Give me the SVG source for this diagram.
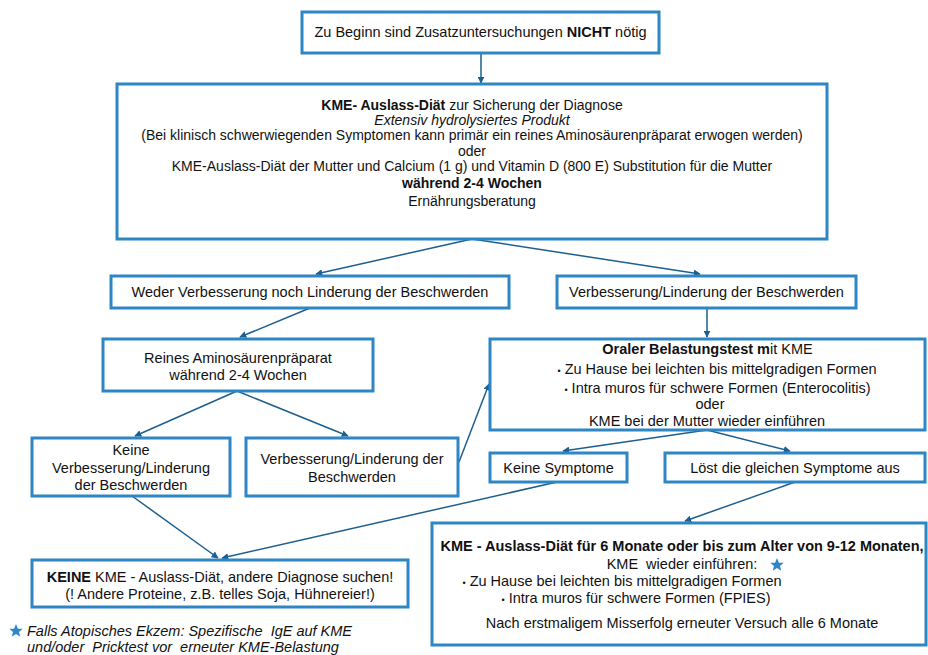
<svg xmlns="http://www.w3.org/2000/svg" width="928" height="655" viewBox="0 0 928 655">
<defs>
<marker id="ah" viewBox="0 0 10 10" refX="9" refY="5" markerWidth="7" markerHeight="7" markerUnits="userSpaceOnUse" orient="auto">
<path d="M0,0 L10,5 L0,10 z" fill="#1d5f8f"/>
</marker>
</defs>
<style>
.box{fill:#fff;stroke:#2f86c4;stroke-width:3}
.t{font-family:"Liberation Sans",Arial,sans-serif;font-size:14.5px;fill:#111;text-anchor:middle;white-space:pre}
.s{font-size:14px}
.b{font-weight:bold}
.i{font-style:italic}
.d{font-size:9px}
.c{fill:none;stroke:#1d5f8f;stroke-width:1.5;marker-end:url(#ah)}
.star{fill:#2f86c4}
</style>
<rect width="928" height="655" fill="#fff"/>

<g id="connectors">
<line class="c" x1="481" y1="53" x2="481" y2="83"/>
<line class="c" x1="472" y1="239" x2="316" y2="274"/>
<line class="c" x1="472" y1="239" x2="700" y2="274"/>
<line class="c" x1="310" y1="308" x2="240" y2="337"/>
<line class="c" x1="707" y1="308" x2="707" y2="337"/>
<line class="c" x1="237" y1="391" x2="135" y2="436"/>
<line class="c" x1="237" y1="391" x2="348" y2="436"/>
<line class="c" x1="459" y1="462" x2="489" y2="384"/>
<line class="c" x1="707" y1="430" x2="563" y2="451"/>
<line class="c" x1="707" y1="430" x2="790" y2="451"/>
<line class="c" x1="795" y1="482" x2="685" y2="521"/>
<line class="c" x1="132" y1="496" x2="218" y2="558"/>
<line class="c" x1="557" y1="482" x2="222" y2="558"/>
</g>

<g id="n1">
<rect class="box" x="302" y="12" width="357" height="41"/>
<text class="t" x="480.5" y="37">Zu Beginn sind Zusatzuntersuchungen <tspan class="b">NICHT</tspan> nötig</text>
</g>

<g id="n2">
<rect class="box" x="117" y="84" width="710" height="155"/>
<text class="t s" x="472" y="110"><tspan class="b">KME- Auslass-Diät</tspan> zur Sicherung der Diagnose</text>
<text class="t s i" x="472" y="125">Extensiv hydrolysiertes Produkt</text>
<text class="t s" x="472" y="140">(Bei klinisch schwerwiegenden Symptomen kann primär ein reines Aminosäurenpräparat erwogen werden)</text>
<text class="t s" x="472" y="156">oder</text>
<text class="t s" x="472" y="171">KME-Auslass-Diät der Mutter und Calcium (1 g) und Vitamin D (800 E) Substitution für die Mutter</text>
<text class="t s b" x="472" y="188">während 2-4 Wochen</text>
<text class="t s" x="472" y="206">Ernährungsberatung</text>
</g>

<g id="n3">
<rect class="box" x="111" y="276" width="398" height="32"/>
<text class="t" x="310" y="297">Weder Verbesserung noch Linderung der Beschwerden</text>
</g>

<g id="n4">
<rect class="box" x="557" y="276" width="299" height="32"/>
<text class="t" x="706.5" y="297">Verbesserung/Linderung der Beschwerden</text>
</g>

<g id="n5">
<rect class="box" x="103" y="339" width="270" height="52"/>
<text class="t" x="238" y="363">Reines Aminosäurenpräparat</text>
<text class="t" x="238" y="380">während 2-4 Wochen</text>
</g>

<g id="n6">
<rect class="box" x="490" y="339" width="435" height="91"/>
<text class="t" x="707.5" y="354"><tspan class="b">Oraler Belastungstest m</tspan>it KME</text>
<text class="t" x="717" y="374"><tspan class="d">•</tspan> Zu Hause bei leichten bis mittelgradigen Formen</text>
<text class="t" x="717.5" y="393"><tspan class="d">•</tspan> Intra muros für schwere Formen (Enterocolitis)</text>
<text class="t" x="710" y="409">oder</text>
<text class="t" x="707" y="426">KME bei der Mutter wieder einführen</text>
</g>

<g id="n7">
<rect class="box" x="32" y="438" width="198" height="58"/>
<text class="t" x="131" y="455">Keine</text>
<text class="t" x="131" y="473">Verbesserung/Linderung</text>
<text class="t" x="131" y="490">der Beschwerden</text>
</g>

<g id="n8">
<rect class="box" x="246" y="438" width="212" height="58"/>
<text class="t" x="352" y="464">Verbesserung/Linderung der</text>
<text class="t" x="352" y="482">Beschwerden</text>
</g>

<g id="n9">
<rect class="box" x="490" y="453" width="137" height="29"/>
<text class="t" x="558.5" y="473">Keine Symptome</text>
</g>

<g id="n10">
<rect class="box" x="665" y="453" width="260" height="29"/>
<text class="t" x="795" y="473">Löst die gleichen Symptome aus</text>
</g>

<g id="n11">
<rect class="box" x="32" y="560" width="376" height="47"/>
<text class="t" x="220" y="582"><tspan class="b">KEINE</tspan> KME - Auslass-Diät, andere Diagnose suchen!</text>
<text class="t" x="220" y="599">(! Andere Proteine, z.B. telles Soja, Hühnereier!)</text>
</g>

<g id="n12">
<rect class="box" x="432" y="523" width="494" height="122"/>
<text class="t b" x="682" y="551">KME - Auslass-Diät für 6 Monate oder bis zum Alter von 9-12 Monaten,</text>
<text class="t" x="682" y="569">KME  wieder einführen:</text>
<path class="star" transform="translate(777,565)" d="M0,-7 L1.9,-2.3 L6.7,-2.2 L3,0.9 L4.2,5.7 L0,3 L-4.2,5.7 L-3,0.9 L-6.7,-2.2 L-1.9,-2.3 z"/>
<text class="t" x="622" y="586"><tspan class="d">•</tspan> Zu Hause bei leichten bis mittelgradigen Formen</text>
<text class="t" x="636" y="603"><tspan class="d">•</tspan> Intra muros für schwere Formen (FPIES)</text>
<text class="t" x="682" y="628">Nach erstmaligem Misserfolg erneuter Versuch alle 6 Monate</text>
</g>

<g id="footnote">
<path class="star" transform="translate(16,631)" d="M0,-7 L1.9,-2.3 L6.7,-2.2 L3,0.9 L4.2,5.7 L0,3 L-4.2,5.7 L-3,0.9 L-6.7,-2.2 L-1.9,-2.3 z"/>
<text class="t i" x="27" y="636" style="text-anchor:start">Falls Atopisches Ekzem: Spezifische  IgE auf KME</text>
<text class="t i" x="27" y="652" style="text-anchor:start">und/oder  Pricktest vor  erneuter KME-Belastung</text>
</g>
</svg>
